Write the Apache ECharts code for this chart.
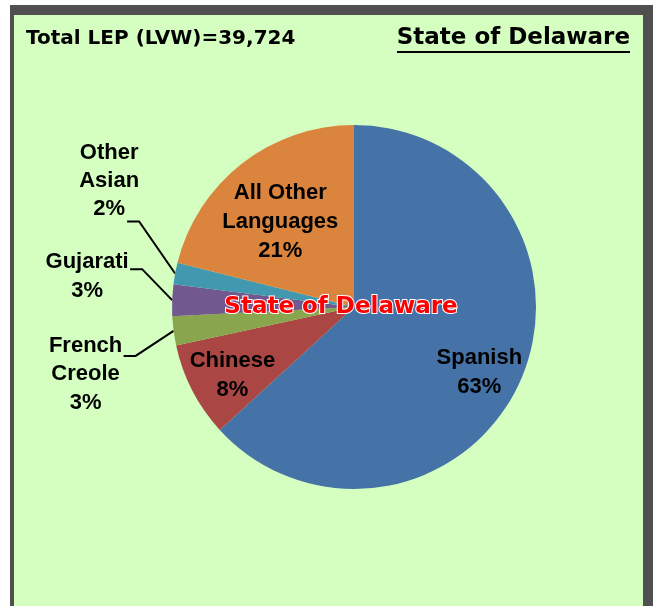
<!DOCTYPE html>
<html>
<head>
<meta charset="utf-8">
<script src="https://cdn.jsdelivr.net/npm/echarts@6/dist/echarts.min.js"></script>
<style>
  html, body { margin: 0; padding: 0; background: #fff; }
  #main { width: 654px; height: 606px; }
</style>
</head>
<body>
<div id="main"></div>
<script>
// data
var categories = ['Spanish', 'Chinese', 'French\nCreole', 'Gujarati', 'Other\nAsian', 'All Other\nLanguages'];
var shares = [63.2, 8.4, 2.6, 2.8, 1.9, 21.1];
var totalLEP = 39724;
var stateName = 'State of Delaware';

var colors = ['#4572A7', '#AA4643', '#89A54E', '#71588F', '#4198AF', '#DB843D'];

var center = [354, 307];
var radius = 182;

// inside labels: pushed out along the radius (k), small nudges
// outside labels: offsets from the point on the rim
var tweak = {
    'Spanish': {k: 1.48, dx: -2, dy: 9},
    'Chinese': {k: 1.48, dx: 2, dy: 5},
    'All Other\nLanguages': {k: 1.24, dx: -2, dy: 7},
    'French\nCreole': {label: [-88, 43], elbow: [-38, 25], end: [-50, 25], lh: 28.5},
    'Gujarati': {label: [-85, -24], elbow: [-30, -31], end: [-42, -31], lh: 29},
    'Other\nAsian': {label: [-66, -93], elbow: [-36, -52], end: [-48, -52], lh: 28}
};

var labelFont = {
    fontFamily: 'Liberation Sans, Arial, sans-serif',
    fontWeight: 'bold',
    fontSize: 22,
    color: '#000'
};

var data = [];
for (var i = 0; i < categories.length; i++) {
    var t = tweak[categories[i]];
    var outside = !!t.label;
    data.push({
        name: categories[i],
        value: shares[i],
        itemStyle: {color: colors[i]},
        label: Object.assign({
            show: true,
            position: outside ? 'outside' : 'inside',
            lineHeight: t.lh || 29,
            formatter: function (p) { return p.name + '\n' + Math.round(p.percent) + '%'; }
        }, labelFont),
        labelLine: {show: outside, length: 10, length2: 10, smooth: false,
            lineStyle: {color: '#000', width: 2}}
    });
}

var chart = echarts.init(document.getElementById('main'));
chart.setOption({
    animation: false,
    backgroundColor: '#fff',
    title: [{
        text: 'Total LEP (LVW)=' + totalLEP.toLocaleString('en-US'),
        left: 26, top: 29, padding: 0,
        textStyle: {
            fontFamily: 'DejaVu Sans', fontWeight: 'bold', fontSize: 20, color: '#000',
            textShadowColor: '#fff', textShadowOffsetX: 1.5, textShadowOffsetY: 1.5, textShadowBlur: 0
        }
    }, {
        text: stateName,
        right: 24, top: 27, padding: 0,
        textStyle: {
            fontFamily: 'DejaVu Sans', fontWeight: 'bold', fontSize: 23, color: '#000',
            textShadowColor: '#fff', textShadowOffsetX: 1.5, textShadowOffsetY: 1.5, textShadowBlur: 0
        }
    }],
    graphic: [{
        type: 'rect', z: -10, silent: true,
        shape: {x: 10, y: 5, width: 643, height: 610},
        style: {fill: '#505050'}
    }, {
        type: 'rect', z: -9, silent: true,
        shape: {x: 14, y: 15, width: 629, height: 600},
        style: {fill: '#D4FFC0'}
    }, {
        type: 'line', z: 10, silent: true,
        shape: {x1: 397, y1: 52, x2: 630, y2: 52},
        style: {stroke: '#000', lineWidth: 2}
    }, {
        type: 'text', z: 100, silent: true,
        x: 341, y: 307,
        style: {
            text: stateName,
            fontFamily: 'DejaVu Sans', fontWeight: 'bold', fontSize: 23,
            fill: '#FF0000', align: 'center', verticalAlign: 'middle',
            stroke: '#fff', lineWidth: 2,
            shadowColor: '#fff', shadowOffsetX: 2, shadowOffsetY: 2, shadowBlur: 2
        }
    }],
    series: [{
        type: 'pie',
        center: center,
        radius: radius,
        startAngle: 90,
        clockwise: true,
        avoidLabelOverlap: false,
        silent: true,
        itemStyle: {borderWidth: 0},
        data: data,
        labelLayout: function (p) {
            var t = tweak[categories[p.dataIndex]];
            var r = p.labelRect;
            if (!t.label) {
                var cx = r.x + r.width / 2, cy = r.y + r.height / 2;
                return {
                    x: center[0] + (cx - center[0]) * t.k + t.dx,
                    y: center[1] + (cy - center[1]) * t.k + t.dy,
                    align: 'center', verticalAlign: 'middle'
                };
            }
            var p0 = p.labelLinePoints[0];
            return {
                x: p0[0] + t.label[0],
                y: p0[1] + t.label[1],
                align: 'center', verticalAlign: 'middle',
                labelLinePoints: [
                    p0,
                    [p0[0] + t.elbow[0], p0[1] + t.elbow[1]],
                    [p0[0] + t.end[0], p0[1] + t.end[1]]
                ]
            };
        }
    }]
});
</script>
</body>
</html>
